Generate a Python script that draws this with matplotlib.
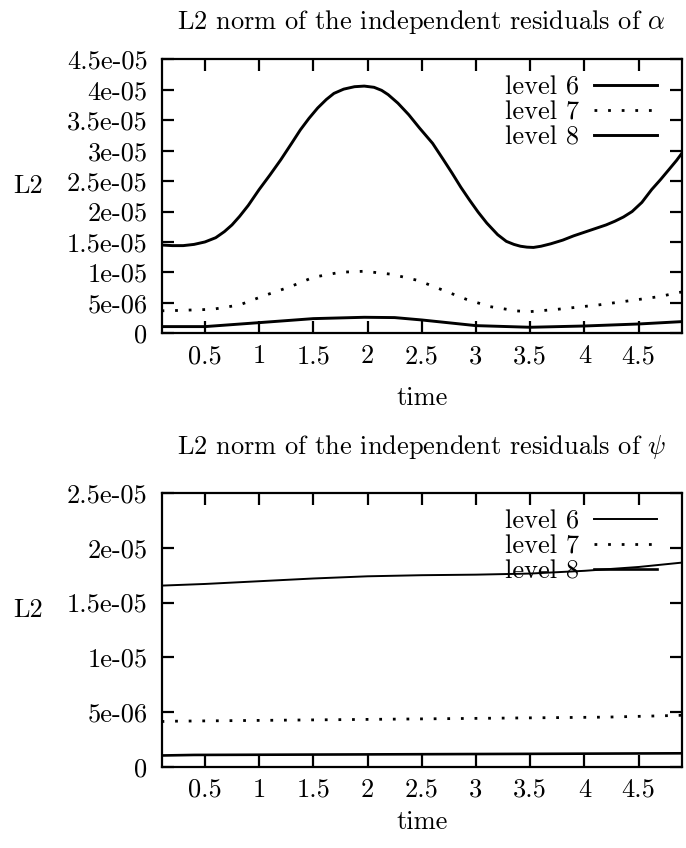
import numpy as np
import matplotlib.pyplot as plt
from matplotlib.ticker import FixedLocator, FixedFormatter

plt.rcParams['font.family'] = 'cmr10'
plt.rcParams['mathtext.fontset'] = 'cm'
plt.rcParams['axes.formatter.use_mathtext'] = True

# residuals of alpha (values in units of 1e-5)
t_a6 = [0.1, 0.2, 0.3, 0.4, 0.5, 0.6, 0.68, 0.75, 0.82, 0.9, 1.0, 1.1, 1.2, 1.3, 1.38, 1.46,
        1.54, 1.62, 1.69, 1.78, 1.88, 1.97, 2.06, 2.13, 2.19, 2.28, 2.38, 2.48, 2.6, 2.7,
        2.78, 2.86, 2.94, 3.02, 3.1, 3.2, 3.28, 3.35, 3.41, 3.47, 3.53, 3.6, 3.69, 3.8,
        3.9, 4.0, 4.1, 4.2, 4.28, 4.36, 4.44, 4.53, 4.62, 4.7, 4.78, 4.85, 4.9]
a6 = [1.45, 1.44, 1.44, 1.46, 1.50, 1.57, 1.67, 1.78, 1.92, 2.10, 2.36, 2.60, 2.85, 3.12,
      3.34, 3.53, 3.70, 3.84, 3.94, 4.01, 4.05, 4.06, 4.04, 3.99, 3.92, 3.78, 3.59, 3.37,
      3.12, 2.85, 2.63, 2.40, 2.19, 1.99, 1.81, 1.62, 1.51, 1.46, 1.43, 1.415, 1.41, 1.43,
      1.47, 1.53, 1.60, 1.66, 1.72, 1.78, 1.84, 1.91, 2.00, 2.15, 2.36, 2.52, 2.69, 2.84,
      2.96]
t_a7 = [0.1, 0.21, 0.57, 0.82, 1.04, 1.29, 1.5, 1.75, 1.97, 2.22, 2.47, 2.69, 2.91, 3.13,
        3.38, 3.5, 3.75, 4.13, 4.47, 4.69, 4.9]
a7 = [0.37, 0.373, 0.394, 0.466, 0.614, 0.767, 0.92, 1.003, 1.019, 0.97, 0.866, 0.712, 0.559,
      0.438, 0.367, 0.356, 0.394, 0.466, 0.548, 0.603, 0.68]
t_a8 = [0.1, 0.5, 1.0, 1.5, 1.97, 2.25, 2.5, 3.0, 3.5, 4.0, 4.5, 4.9]
a8 = [0.110, 0.110, 0.175, 0.241, 0.263, 0.258, 0.219, 0.126, 0.099, 0.120, 0.153, 0.192]

# residuals of psi (values in units of 1e-5)
t_p6 = [0.1, 0.5, 1.0, 1.5, 2.0, 2.5, 3.0, 3.5, 4.0, 4.5, 4.9]
p6 = [1.655, 1.67, 1.695, 1.72, 1.74, 1.75, 1.755, 1.765, 1.79, 1.825, 1.865]
t_p7 = [0.1, 0.21, 2.5, 4.2, 4.83, 4.9]
p7 = [0.415, 0.418, 0.439, 0.455, 0.470, 0.472]
t_p8 = [0.1, 0.4, 2.0, 3.5, 4.9]
p8 = [0.105, 0.11, 0.115, 0.12, 0.125]

xticks = [0.5, 1, 1.5, 2, 2.5, 3, 3.5, 4, 4.5]
xlabels = ['0.5', '1', '1.5', '2', '2.5', '3', '3.5', '4', '4.5']
yticks_a = [0, 5e-6, 1e-5, 1.5e-5, 2e-5, 2.5e-5, 3e-5, 3.5e-5, 4e-5, 4.5e-5]
ylabels_a = ['0', '5e-06', '1e-05', '1.5e-05', '2e-05', '2.5e-05', '3e-05', '3.5e-05',
             '4e-05', '4.5e-05']
yticks_p = [0, 5e-6, 1e-5, 1.5e-5, 2e-5, 2.5e-5]
ylabels_p = ['0', '5e-06', '1e-05', '1.5e-05', '2e-05', '2.5e-05']

W, H = 686, 848
FS = 19


def box(x0, y0, x1, y1):
    return [x0 / W, 1 - y1 / H, (x1 - x0) / W, (y1 - y0) / H]


def setup(ax, yt, yl, ymax):
    ax.set_xlim(0.1, 4.9)
    ax.set_ylim(0, ymax)
    ax.xaxis.set_major_locator(FixedLocator(xticks))
    ax.xaxis.set_major_formatter(FixedFormatter(xlabels))
    ax.yaxis.set_major_locator(FixedLocator(yt))
    ax.yaxis.set_major_formatter(FixedFormatter(yl))
    ax.tick_params(direction='in', length=8.6, width=1.6, top=True, right=True,
                   labelsize=FS)
    ax.tick_params(axis='x', pad=8)
    ax.tick_params(axis='y', pad=10)
    for s in ax.spines.values():
        s.set_linewidth(1.6)


fig = plt.figure(figsize=(6.86, 8.48), dpi=100)
ax1 = fig.add_axes(box(161.5, 59.3, 682, 333.3))
ax2 = fig.add_axes(box(161.5, 493, 682, 767))

dot = (0, (1, 3.9))
ax1.plot(t_a6, np.array(a6) * 1e-5, color='black', lw=2.1, label='level 6')
ax1.plot(t_a7, np.array(a7) * 1e-5, color='black', lw=2.0, ls=dot, label='level 7')
ax1.plot(t_a8, np.array(a8) * 1e-5, color='black', lw=2.1, label='level 8')
setup(ax1, yticks_a, ylabels_a, 4.5e-5)

ax2.plot(t_p6, np.array(p6) * 1e-5, color='black', lw=1.4, label='level 6')
ax2.plot(t_p7, np.array(p7) * 1e-5, color='black', lw=2.0, ls=dot, label='level 7')
ax2.plot(t_p8, np.array(p8) * 1e-5, color='black', lw=1.9, label='level 8')
setup(ax2, yticks_p, ylabels_p, 2.5e-5)

for ax in (ax1, ax2):
    ax.legend(loc='upper right', bbox_to_anchor=(0.952, 0.94), frameon=False,
              markerfirst=False, fontsize=FS, handlelength=2.4, handletextpad=0.55,
              borderpad=0, borderaxespad=0, labelspacing=0.05)

fig.text(421.7 / W, 1 - 22 / H, r'L2 norm of the independent residuals of $\alpha$',
         ha='center', va='center', fontsize=FS)
fig.text(421.7 / W, 1 - 447 / H, r'L2 norm of the independent residuals of $\psi$',
         ha='center', va='center', fontsize=FS)
fig.text(421.7 / W, 1 - 398 / H, 'time', ha='center', va='center', fontsize=FS)
fig.text(421.7 / W, 1 - 822 / H, 'time', ha='center', va='center', fontsize=FS)
fig.text(28 / W, 1 - 186 / H, 'L2', ha='center', va='center', fontsize=FS)
fig.text(28 / W, 1 - 610 / H, 'L2', ha='center', va='center', fontsize=FS)

fig.savefig('out.png', dpi=100)
